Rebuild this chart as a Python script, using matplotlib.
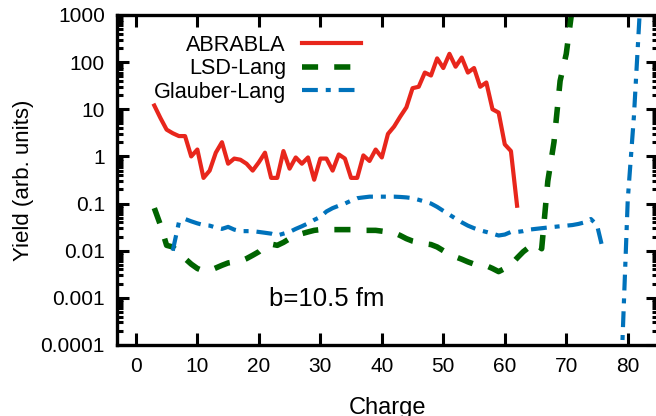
import numpy as np
import matplotlib
matplotlib.use("Agg")
import matplotlib.pyplot as plt
from matplotlib.ticker import FixedLocator, FixedFormatter, LogLocator, NullFormatter, NullLocator

plt.rcParams['font.family'] = ['Liberation Sans', 'DejaVu Sans']

# Datos
# ______

Z_ABRABLA = list(range(3, 63))
Y_ABRABLA = [12, 6.5, 3.7, 3.1, 2.7, 2.7, 1.0, 1.4, 0.35, 0.5,
             1.2, 2.0, 0.7, 0.9, 0.85, 0.7, 0.5, 0.75, 1.2, 0.35,
             0.35, 1.3, 0.55, 0.95, 0.7, 0.95, 0.32, 0.9, 0.9, 0.5,
             1.1, 0.9, 0.35, 0.35, 1.05, 0.8, 1.4, 0.95, 3.0, 4.3,
             7, 11, 28, 30, 60, 52, 120, 75, 150, 80,
             125, 60, 75, 30, 37, 10, 8.5, 1.8, 1.3, 0.09]

Z_LSD = list(range(3, 72))
Y_LSD = [0.08, 0.035, 0.013, 0.012, 0.009, 0.0068, 0.0052, 0.0042, 0.0037, 0.0038,
         0.0043, 0.0049, 0.0055, 0.0058, 0.006, 0.0068, 0.008, 0.0095, 0.0125, 0.0138,
         0.013, 0.015, 0.018, 0.02, 0.023, 0.025, 0.027, 0.028, 0.028, 0.028,
         0.028, 0.028, 0.028, 0.027, 0.027, 0.027, 0.027, 0.026, 0.025, 0.024,
         0.021, 0.018, 0.016, 0.015, 0.014, 0.0135, 0.012, 0.01, 0.0085, 0.0074,
         0.0066, 0.0058, 0.0052, 0.005, 0.0048, 0.0042, 0.0036, 0.0042, 0.005, 0.007,
         0.0095, 0.012, 0.0145, 0.011, 0.3, 2.0, 40, 150, 1500]

Z_GLAUBER = list(range(6, 83))
Y_GLAUBER = [0.010, 0.04, 0.047, 0.042, 0.038, 0.035, 0.034, 0.031, 0.029, 0.032,
             0.028, 0.026, 0.026, 0.026, 0.025, 0.024, 0.023, 0.021, 0.023, 0.025,
             0.029, 0.033, 0.038, 0.045, 0.052, 0.068, 0.08, 0.09, 0.1, 0.115,
             0.13, 0.135, 0.14, 0.14, 0.14, 0.14, 0.14, 0.138, 0.135, 0.13,
             0.12, 0.11, 0.1, 0.085, 0.07, 0.058, 0.048, 0.04, 0.034, 0.03,
             0.027, 0.025, 0.023, 0.021, 0.022, 0.025, 0.025, 0.026, 0.028, 0.029,
             0.03, 0.031, 0.032, 0.033, 0.034, 0.035, 0.037, 0.04, 0.047, 0.035,
             0.01, np.nan, np.nan, 4e-5, 0.12, 7, 1500]

X_TICKS = [0, 10, 20, 30, 40, 50, 60, 70, 80]
Y_TICKS = [1e-4, 1e-3, 1e-2, 1e-1, 1, 10, 100, 1000]
Y_LABELS = ["0.0001", "0.001", "0.01", "0.1", "1", "10", "100", "1000"]

# Grafico
# ________

fig = plt.figure(figsize=(6.56, 4.16), dpi=100)
ax = fig.add_axes([0.179, 0.1707, 1.0038 - 0.179, 0.964 - 0.1707])

ax.plot(Z_ABRABLA, Y_ABRABLA, color='#e8261c', lw=3.0, label='ABRABLA')
ax.plot(Z_LSD, Y_LSD, color='#006400', lw=4.0, dashes=(2.9, 2.9), label='LSD-Lang')
ax.plot(Z_GLAUBER, Y_GLAUBER, color='#0072bb', lw=3.0, dashes=(3.8, 1.9, 1.2, 1.9),
        label='Glauber-Lang')

ax.set_yscale('log')
ax.set_xlim(-3, 85)
ax.set_ylim(1e-4, 1e3)

ax.xaxis.set_major_locator(FixedLocator(X_TICKS))
ax.xaxis.set_minor_locator(NullLocator())
ax.yaxis.set_major_locator(FixedLocator(Y_TICKS))
ax.yaxis.set_major_formatter(FixedFormatter(Y_LABELS))
ax.yaxis.set_minor_locator(LogLocator(base=10, subs=np.arange(2, 10), numticks=20))
ax.yaxis.set_minor_formatter(NullFormatter())

ax.tick_params(which='both', direction='in', top=True, right=True, width=2.2,
               labelsize=15, color='black')
ax.tick_params(which='major', length=8.5, pad=9)
ax.tick_params(which='minor', length=4.5)
for s in ax.spines.values():
    s.set_linewidth(2.4)

ax.set_xlabel('Charge', fontsize=17, labelpad=15)
ax.set_ylabel('Yield (arb. units)', fontsize=16, labelpad=5)

ax.text(21.7, 6.7e-4, 'b=10.5 fm', fontsize=18.5, va='baseline', ha='left')

ax.legend(loc='upper right', bbox_to_anchor=(0.4495, 0.94), frameon=False,
          markerfirst=False, fontsize=15.6, handlelength=2.7, handletextpad=0.75,
          labelspacing=0.12, borderpad=0, borderaxespad=0)

fig.savefig('out.png', dpi=100)
